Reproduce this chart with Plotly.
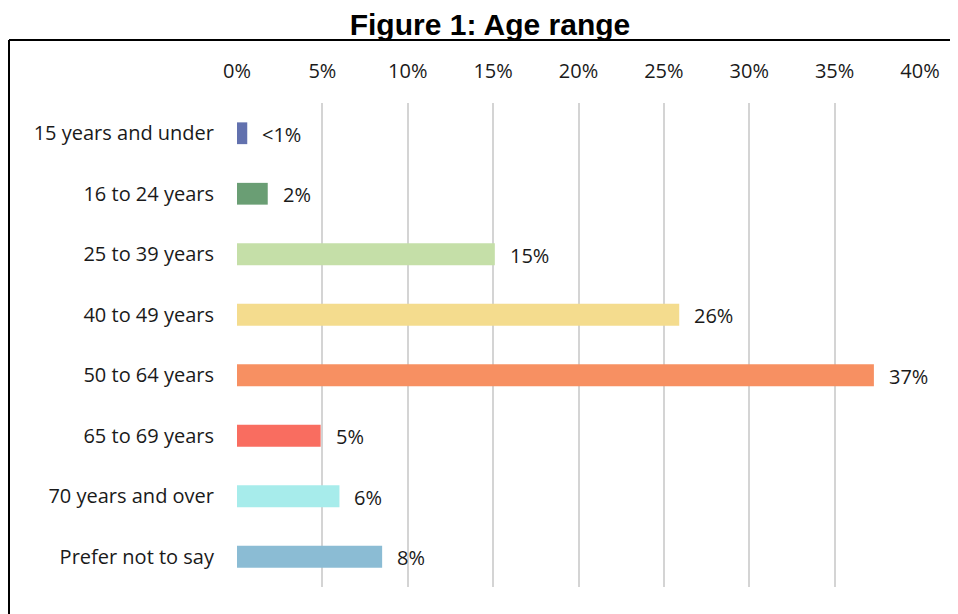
import plotly.graph_objects as go

categories = ["15 years and under", "16 to 24 years", "25 to 39 years", "40 to 49 years",
              "50 to 64 years", "65 to 69 years", "70 years and over", "Prefer not to say"]
values = [0.6, 1.8, 15.1, 25.9, 37.3, 4.9, 6.0, 8.5]
value_labels = ["<1%", "2%", "15%", "26%", "37%", "5%", "6%", "8%"]
colors = ["#6271ae", "#6a9e74", "#c5dfa8", "#f4dc8e", "#f79062", "#f96d60", "#a7eceb", "#8bbcd4"]
tick_vals = [0, 5, 10, 15, 20, 25, 30, 35, 40]
tick_text = ["0%", "5%", "10%", "15%", "20%", "25%", "30%", "35%", "40%"]

# page body has an 8px margin, so work in figure coordinates = screen - 8
OFF = 8
W, H = 958 - OFF, 614 - OFF
L, R, T, B = 237 - OFF, 38, 103 - OFF, 27

FONT = "Open Sans, sans-serif"
FS = 20

fig = go.Figure(go.Bar(
    x=values, y=categories, orientation="h",
    marker=dict(color=colors, line=dict(width=0)),
    width=0.36, hoverinfo="skip",
))

for v, c, lab in zip(values, categories, value_labels):
    fig.add_annotation(x=v, y=c, text=lab, showarrow=False, xanchor="left",
                       xshift=13, yshift=-1,
                       font=dict(family=FONT, size=FS, color="#1a1a1a"))

pw, ph = W - L - R, H - T - B
def px(x):
    return (x - OFF - L) / pw
def py(y):
    return (H - B - (y - OFF)) / ph

# frame border (top and left visible)
fig.add_shape(type="line", xref="paper", yref="paper", x0=px(9), x1=px(980), y0=py(40), y1=py(40),
              line=dict(color="black", width=2))
fig.add_shape(type="line", xref="paper", yref="paper", x0=px(9), x1=px(9), y0=py(40), y1=py(640),
              line=dict(color="black", width=2))

fig.update_layout(
    width=W, height=H,
    margin=dict(l=L, r=R, t=T, b=B),
    paper_bgcolor="white", plot_bgcolor="white",
    showlegend=False,
    title=dict(text="<b>Figure 1: Age range</b>", x=(490 - OFF) / W, xanchor="center",
               y=1 - (24 - OFF) / H, yanchor="middle",
               font=dict(family="Liberation Sans, Arial, sans-serif", size=30, color="black")),
    xaxis=dict(range=[0, 40], side="top", tickvals=tick_vals, ticktext=tick_text,
               showgrid=True, gridcolor="#d4d4d4", gridwidth=1.5, zeroline=False,
               showline=False, ticks="", ticklabelstandoff=20,
               tickfont=dict(family=FONT, size=FS, color="#1a1a1a"),
               fixedrange=True),
    yaxis=dict(categoryorder="array", categoryarray=categories, autorange="reversed",
               showgrid=False, zeroline=False, showline=False, ticks="",
               ticklabelstandoff=22,
               tickfont=dict(family=FONT, size=FS, color="#1a1a1a"),
               fixedrange=True),
)

fig.write_html("out.html")
